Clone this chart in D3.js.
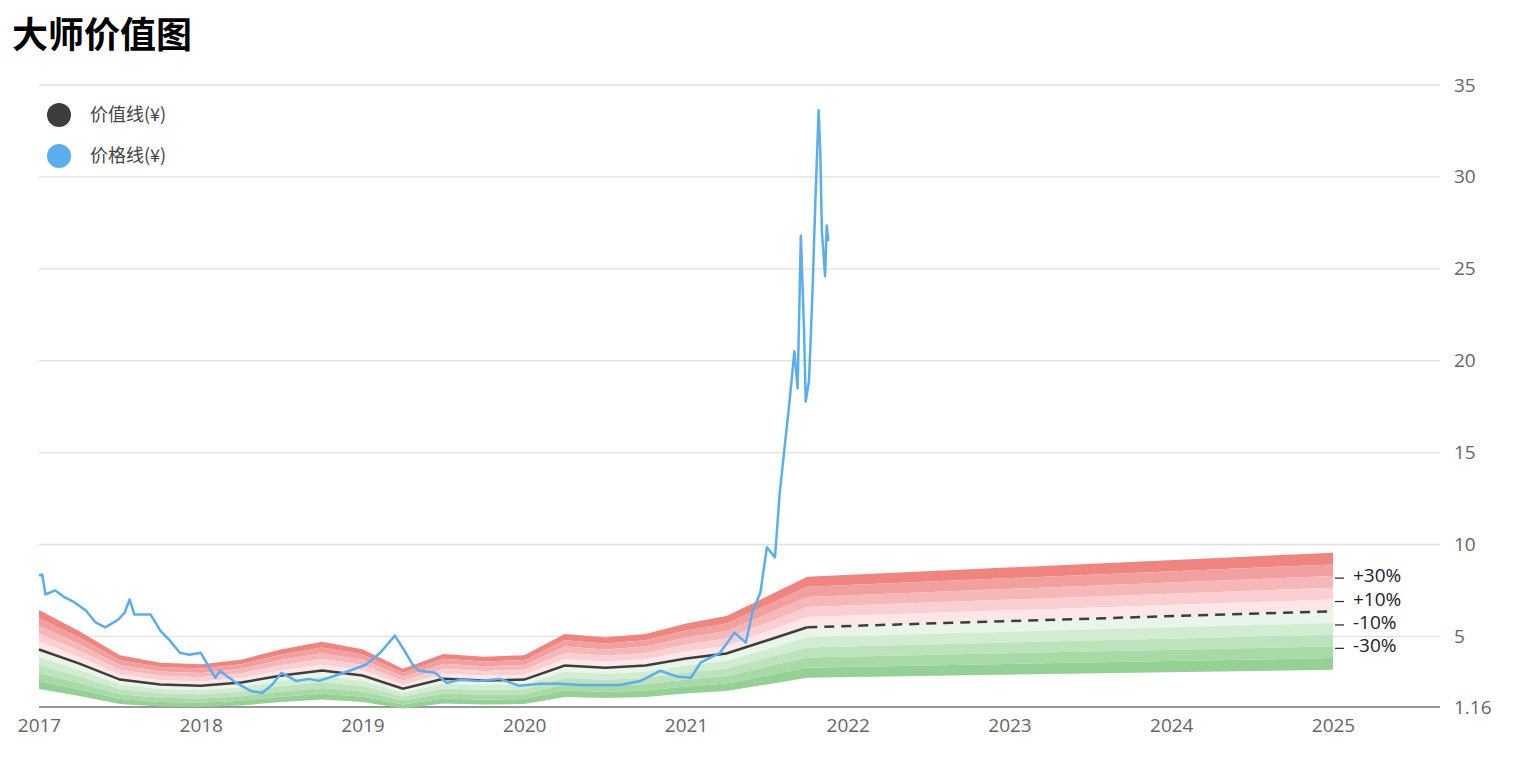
<!DOCTYPE html>
<html lang="zh">
<head>
<meta charset="utf-8">
<title>大师价值图</title>
<script src="https://d3js.org/d3.v7.min.js"></script>
<style>
  body { margin: 0; background: #fff; font-family: "Noto Sans CJK SC", "Noto Sans", sans-serif; }
</style>
</head>
<body>
<svg id="chart" width="1525" height="764"></svg>
<script>
// value line (black), quarterly points
const valueYears = [2017, 2017.25, 2017.5, 2017.75, 2018, 2018.25, 2018.5, 2018.75, 2019, 2019.25, 2019.5, 2019.75, 2020, 2020.25, 2020.5, 2020.75, 2021, 2021.25, 2021.5, 2021.75];
const valueVals  = [4.29, 3.52, 2.65, 2.38, 2.32, 2.49, 2.87, 3.14, 2.87, 2.16, 2.7, 2.6, 2.65, 3.42, 3.3, 3.42, 3.8, 4.07, 4.78, 5.5];
// forecast (dashed)
const forecastYears = [2021.75, 2025];
const forecastVals  = [5.5, 6.37];

// price line (blue)
const priceYears = [2017.0, 2017.02, 2017.04, 2017.1, 2017.16, 2017.22, 2017.29, 2017.35, 2017.41, 2017.49, 2017.53, 2017.56, 2017.59, 2017.69, 2017.75, 2017.81, 2017.87, 2017.93, 2018.0, 2018.09, 2018.12, 2018.15, 2018.22, 2018.31, 2018.38, 2018.44, 2018.5, 2018.59, 2018.67, 2018.73, 2018.83, 2018.92, 2019.02, 2019.11, 2019.2, 2019.26, 2019.31, 2019.35, 2019.45, 2019.52, 2019.6, 2019.72, 2019.85, 2019.97, 2020.1, 2020.22, 2020.35, 2020.47, 2020.59, 2020.72, 2020.84, 2020.95, 2021.03, 2021.09, 2021.15, 2021.21, 2021.3, 2021.37, 2021.41, 2021.46, 2021.5, 2021.55, 2021.58, 2021.64, 2021.67, 2021.69, 2021.71, 2021.73, 2021.74, 2021.76, 2021.78, 2021.8, 2021.82, 2021.83, 2021.84, 2021.86, 2021.87, 2021.88];
const priceVals  = [8.32, 8.37, 7.28, 7.5, 7.12, 6.85, 6.41, 5.76, 5.49, 5.91, 6.3, 7.01, 6.19, 6.19, 5.31, 4.77, 4.11, 4.0, 4.11, 2.75, 3.13, 2.91, 2.47, 2.03, 1.92, 2.36, 3.02, 2.58, 2.69, 2.58, 2.86, 3.13, 3.46, 4.11, 5.04, 4.22, 3.46, 3.13, 3.02, 2.47, 2.64, 2.58, 2.69, 2.31, 2.42, 2.42, 2.36, 2.36, 2.36, 2.58, 3.13, 2.8, 2.75, 3.57, 3.84, 4.11, 5.2, 4.66, 6.3, 7.39, 9.85, 9.3, 12.86, 17.78, 20.51, 18.5, 26.8, 21.6, 17.78, 18.87, 23.25, 28.71, 33.63, 31.45, 27.07, 24.6, 27.35, 26.5];

// value bands: multipliers around value line
const bandSteps = [1.5, 1.4, 1.3, 1.2, 1.1, 1.0, 0.9, 0.8, 0.7, 0.6, 0.5];
const bandColors = ["#f08580", "#f29f9f", "#f5b7b7", "#f9cfd2", "#fde6e8", "#e8f5e8", "#d2ecd2", "#bde3bd", "#a8daa8", "#95d195"];
const pctLabels = ["+30%", "+10%", "-10%", "-30%"];
const pctMults = [1.3, 1.1, 0.9, 0.7];

const yTicks = [1.16, 5, 10, 15, 20, 25, 30, 35];
const xTicks = [2017, 2018, 2019, 2020, 2021, 2022, 2023, 2024, 2025];

const svg = d3.select("#chart");
const mLeft = 39, mRight = 1440, mTop = 85, mBottom = 707;

const x = d3.scaleLinear().domain([2017, 2025]).range([mLeft, 1333]);
const y = d3.scaleLinear().domain([1.16, 35]).range([mBottom, mTop]);

// title
svg.append("text").attr("x", 12).attr("y", 48)
  .attr("font-size", 36).attr("font-weight", "bold").attr("fill", "#000")
  .text("大师价值图");

// gridlines
svg.append("g").selectAll("line").data(yTicks.slice(1)).join("line")
  .attr("x1", mLeft).attr("x2", mRight)
  .attr("y1", d => y(d)).attr("y2", d => y(d))
  .attr("stroke", "#e0e0e0").attr("stroke-width", 1.3);

// y axis labels (right)
const yAxis = d3.axisRight(y).tickValues(yTicks).tickSize(0).tickPadding(14).tickFormat(d => d);
svg.append("g").attr("transform", `translate(${mRight},0)`).call(yAxis)
  .call(g => g.select(".domain").remove())
  .selectAll("text").attr("font-size", 19).attr("fill", "#666")
  .attr("font-family", "Open Sans, sans-serif");

// x axis
const xAxis = d3.axisBottom(x).tickValues(xTicks).tickSize(0).tickPadding(12).tickFormat(d3.format("d"));
svg.append("g").attr("transform", `translate(0,${mBottom})`).call(xAxis)
  .call(g => g.select(".domain").remove())
  .selectAll("text").attr("font-size", 19).attr("fill", "#666")
  .attr("font-family", "Open Sans, sans-serif");
svg.append("line").attr("x1", mLeft).attr("x2", mRight).attr("y1", mBottom).attr("y2", mBottom)
  .attr("stroke", "#777").attr("stroke-width", 1.5);

// band data: full value series incl. forecast
const fullYears = valueYears.concat(forecastYears.slice(1));
const fullVals = valueVals.concat(forecastVals.slice(1));
const fullPts = fullYears.map((t, i) => ({t, v: fullVals[i]}));

for (let i = 0; i < bandColors.length; i++) {
  const hi = bandSteps[i], lo = bandSteps[i + 1];
  const area = d3.area().x(d => x(d.t)).y0(d => y(d.v * lo)).y1(d => y(d.v * hi));
  svg.append("path").datum(fullPts).attr("d", area).attr("fill", bandColors[i]);
}

// value line
const line = d3.line().x(d => x(d.t)).y(d => y(d.v));
svg.append("path").datum(valueYears.map((t, i) => ({t, v: valueVals[i]})))
  .attr("d", line).attr("fill", "none").attr("stroke", "#3d3d3d").attr("stroke-width", 2.5);
svg.append("path").datum(forecastYears.map((t, i) => ({t, v: forecastVals[i]})))
  .attr("d", line).attr("fill", "none").attr("stroke", "#3d3d3d").attr("stroke-width", 2.5)
  .attr("stroke-dasharray", "10,7");

// price line
svg.append("path").datum(priceYears.map((t, i) => ({t, v: priceVals[i]})))
  .attr("d", line).attr("fill", "none").attr("stroke", "#5aaef0").attr("stroke-width", 2.5)
  .attr("stroke-linejoin", "round");

// percent labels
const lastV = forecastVals[forecastVals.length - 1];
const pg = svg.append("g");
pctMults.forEach((m, i) => {
  const yy = y(lastV * m);
  pg.append("line").attr("x1", x(2025) + 2).attr("x2", x(2025) + 11)
    .attr("y1", yy + 2).attr("y2", yy + 2).attr("stroke", "#333").attr("stroke-width", 1.3);
  pg.append("text").attr("x", x(2025) + 20).attr("y", yy + 6)
    .attr("font-size", 19).attr("fill", "#222").attr("font-family", "Open Sans, sans-serif")
    .text(pctLabels[i]);
});

// legend
const legend = [{label: "价值线(¥)", color: "#3d3d3d"}, {label: "价格线(¥)", color: "#5aaef0"}];
const lg = svg.append("g").selectAll("g").data(legend).join("g")
  .attr("transform", (d, i) => `translate(59,${115 + i * 41})`);
lg.append("circle").attr("r", 12).attr("fill", d => d.color);
lg.append("text").attr("x", 31).attr("y", 6).attr("font-size", 18).attr("fill", "#444")
  .text(d => d.label);
</script>
</body>
</html>
